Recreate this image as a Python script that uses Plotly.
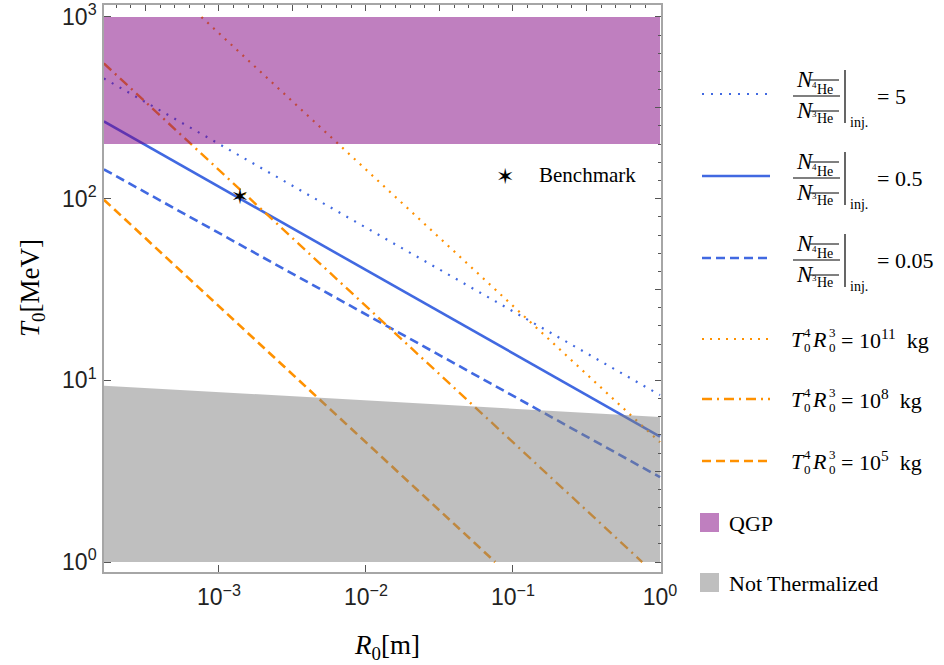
import math
import plotly.graph_objects as go

# ---------------- data ----------------
R_min = 1.65e-4
ratio_labels = ["5", "0.5", "0.05"]
ratio_R = [[R_min, 1.0], [R_min, 1.0], [R_min, 1.0]]
ratio_T = [[459, 8.3], [266, 4.9], [145, 2.93]]

mass_labels = ["11", "8", "5"]
mass_R = [[7.6e-4, 1.0], [R_min, 0.757], [R_min, 0.0757]]
mass_T = [[1000, 4.56], [555, 1.0], [98.6, 1.0]]

qgp_R = [R_min, 1.0]
qgp_T = [200, 1000]

nt_R = [R_min, 1e-3, 1e-2, 1e-1, 1.0]
nt_T_top = [9.35, 8.6, 7.74, 6.97, 6.28]
nt_T_bottom = 1.0

bench_R = [1.39e-3]
bench_T = [100]

x_tickvals = [1e-3, 1e-2, 1e-1, 1]
x_ticktext = ["10<sup>\u22123</sup>", "10<sup>\u22122</sup>", "10<sup>\u22121</sup>", "10<sup>0</sup>"]
y_tickvals = [1, 10, 100, 1000]
y_ticktext = ["10<sup>0</sup>", "10<sup>1</sup>", "10<sup>2</sup>", "10<sup>3</sup>"]

# ---------------- styles ----------------
BLUE = "rgb(65,105,225)"
ORANGE = "rgb(255,145,0)"
ratio_dash = ["2px,7px", "solid", "9px,5px"]
ratio_width = [2.2, 2.6, 2.6]
mass_dash = ["2px,6px", "10px,5px,2px,5px", "9px,5px"]
mass_width = [2.2, 2.4, 2.6]
SERIF = "Liberation Serif"
SANS = "Liberation Sans"
FRAME = "#A6A6A6"
TICK = "#555555"

FIG_W, FIG_H = 944, 665
# plot frame in figure pixels
L, RGT, TOP, BOT = 104, 661, 5, 572
W, H = RGT - L, BOT - TOP

XR = [-3.782, 0.0068]
YR = [-0.055, 3.066]

fig = go.Figure()

for R, T, d, w in zip(ratio_R, ratio_T, ratio_dash, ratio_width):
    fig.add_trace(go.Scatter(x=R, y=T, mode="lines",
                             line=dict(color=BLUE, dash=d, width=w), hoverinfo="skip"))
for R, T, d, w in zip(mass_R, mass_T, mass_dash, mass_width):
    fig.add_trace(go.Scatter(x=R, y=T, mode="lines",
                             line=dict(color=ORANGE, dash=d, width=w), hoverinfo="skip"))

# regions (semi-transparent, drawn above the lines)
fig.add_trace(go.Scatter(x=[qgp_R[0], qgp_R[1], qgp_R[1], qgp_R[0]],
                         y=[qgp_T[0], qgp_T[0], qgp_T[1], qgp_T[1]],
                         mode="lines", fill="toself", fillcolor="rgba(128,0,128,0.5)",
                         line=dict(width=0), hoverinfo="skip"))
fig.add_trace(go.Scatter(x=nt_R + nt_R[::-1],
                         y=nt_T_top + [nt_T_bottom] * len(nt_R),
                         mode="lines", fill="toself", fillcolor="rgba(128,128,128,0.5)",
                         line=dict(width=0), hoverinfo="skip"))

# benchmark star
fig.add_trace(go.Scatter(x=bench_R, y=bench_T, mode="text", text=["\u2736"],
                         textposition="middle center",
                         textfont=dict(family="DejaVu Sans", size=22, color="black"),
                         hoverinfo="skip"))

# dummy trace for top/right tick axes
fig.add_trace(go.Scatter(x=[-1], y=[1], xaxis="x2", yaxis="y2", mode="markers",
                         marker=dict(opacity=0), hoverinfo="skip"))


# pixel -> paper helpers
def fx(x):
    return (x - L) / W


def fy(y):
    return (BOT - y) / H


annotations = []
shapes = []


def ann(x, y, text, size, xanchor="left", yanchor="middle", family=SERIF, angle=0):
    annotations.append(dict(x=fx(x), y=fy(y), xref="paper", yref="paper", text=text,
                            showarrow=False, xanchor=xanchor, yanchor=yanchor,
                            textangle=angle, borderpad=0,
                            font=dict(family=family, size=size, color="black")))


def hline(x0, x1, y, color="black", width=1.0, dash="solid"):
    shapes.append(dict(type="line", xref="paper", yref="paper",
                       x0=fx(x0), x1=fx(x1), y0=fy(y), y1=fy(y),
                       line=dict(color=color, width=width, dash=dash)))


def vline(x, y0, y1, color="black", width=1.0):
    shapes.append(dict(type="line", xref="paper", yref="paper",
                       x0=fx(x), x1=fx(x), y0=fy(y0), y1=fy(y1),
                       line=dict(color=color, width=width)))


ratio_yc = [96, 178, 260]
for yc, lab, d, w in zip(ratio_yc, ratio_labels, ratio_dash, ratio_width):
    hline(702, 770, yc - 2, BLUE, w, d)
    # numerator
    ann(795, yc - 16.5, "<i>N</i>", 23)
    ann(811, yc - 11, "4", 9)
    ann(816, yc - 7, "He", 14)
    hline(810, 839, yc - 16)
    # fraction bar
    hline(793, 840, yc, width=1.1)
    # denominator
    ann(795, yc + 14.5, "<i>N</i>", 23)
    ann(811, yc + 18, "3", 9)
    ann(816, yc + 22, "He", 14)
    hline(810, 839, yc + 15)
    # evaluation bar
    vline(845, yc - 26, yc + 27, width=1.2)
    ann(849, yc + 26, "inj.", 14)
    ann(876, yc, "= " + lab, 22)

mass_yc = [339, 399, 461]
for yc, lab, d, w in zip(mass_yc, mass_labels, mass_dash, mass_width):
    hline(702, 770, yc, ORANGE, w, d)
    ann(790, yc, "<i>T</i>", 22)
    ann(803, yc - 7, "4", 13)
    ann(803, yc + 8, "0", 13)
    ann(811, yc, "<i>R</i>", 22)
    ann(828, yc - 7, "3", 13)
    ann(828, yc + 8, "0", 13)
    ann(840, yc, "= 10<sup>" + lab + "</sup>  kg", 22)

shapes.append(dict(type="rect", xref="paper", yref="paper", x0=fx(700), x1=fx(719),
                   y0=fy(532), y1=fy(513), fillcolor="#BF7FBF", line=dict(width=0)))
ann(728, 523, "QGP", 22)
shapes.append(dict(type="rect", xref="paper", yref="paper", x0=fx(700), x1=fx(719),
                   y0=fy(592), y1=fy(573), fillcolor="#BFBFBF", line=dict(width=0)))
ann(728, 583, "Not Thermalized", 22)

# benchmark key
ann(505, 176, "\u2736", 22, xanchor="center", family="DejaVu Sans")
ann(538, 175, "Benchmark", 21)

# axis titles
ann(387, 647, "<i>R</i><sub>0</sub>[m]", 27, xanchor="center")
ann(32, 288, "<i>T</i><sub>0</sub>[MeV]", 27, xanchor="center", angle=-90)

axis_common = dict(showgrid=False, zeroline=False, showline=True, linecolor=FRAME,
                   linewidth=1.6, ticks="inside", tickcolor=TICK, automargin=False)

fig.update_layout(
    width=FIG_W, height=FIG_H, autosize=False,
    margin=dict(l=L, r=FIG_W - RGT, t=TOP, b=FIG_H - BOT, pad=0, autoexpand=False),
    paper_bgcolor="white", plot_bgcolor="white",
    showlegend=False,
    xaxis=dict(type="log", range=XR, tickvals=x_tickvals, ticktext=x_ticktext,
               ticklen=7, tickwidth=1, ticklabelstandoff=4, ticklabeloverflow="allow",
               tickfont=dict(family=SANS, size=23, color="#222"), **axis_common),
    yaxis=dict(type="log", range=YR, tickvals=y_tickvals, ticktext=y_ticktext,
               ticklen=7, tickwidth=1, ticklabelstandoff=1, ticklabeloverflow="allow",
               tickfont=dict(family=SANS, size=23, color="#222"), **axis_common),
    xaxis2=dict(overlaying="x", side="top", anchor="y", type="linear", range=XR,
                tick0=0, dtick=0.5, ticklen=6, tickwidth=1, showticklabels=False,
                minor=dict(tick0=0, dtick=0.1, ticks="inside", ticklen=3.5,
                           tickcolor=TICK, showgrid=False),
                **axis_common),
    yaxis2=dict(overlaying="y", side="right", anchor="x", type="linear", range=YR,
                tick0=0, dtick=0.5, ticklen=6, tickwidth=1, showticklabels=False,
                minor=dict(tick0=0, dtick=0.1, ticks="inside", ticklen=3.5,
                           tickcolor=TICK, showgrid=False),
                **axis_common),
    annotations=annotations,
    shapes=shapes,
)

# the page's default 8px body margin would push the 944x665 figure off the window
fig.write_html("out.html",
               config={"displayModeBar": False},
               post_script="document.body.style.margin='0';document.body.style.overflow='hidden';")
